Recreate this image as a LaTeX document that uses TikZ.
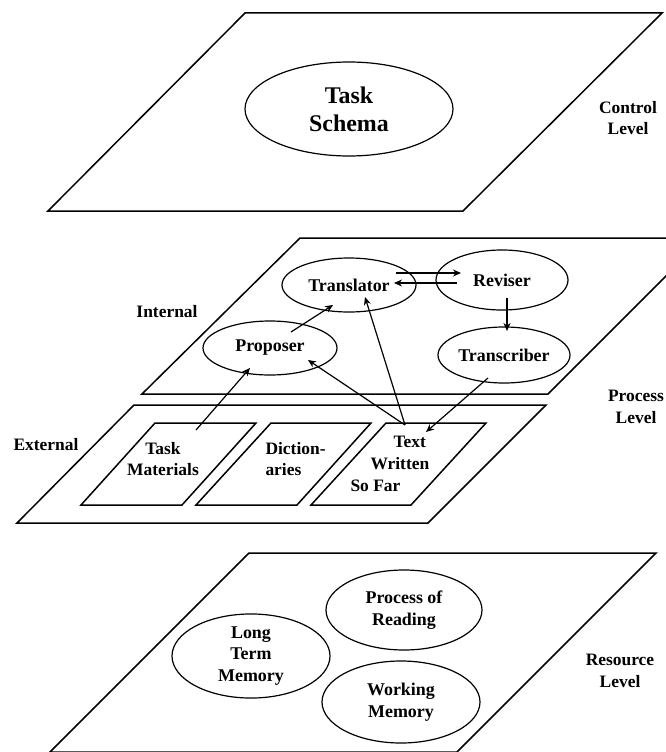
\documentclass[tikz,border=0pt]{standalone}
\usepackage{fontspec}
\setmainfont{Liberation Serif}
\usetikzlibrary{shapes.geometric,arrows.meta}

\begin{document}
\begin{tikzpicture}[x=1bp,y=-1bp,
  plane/.style={line width=1.5bp, line join=miter},
  oval/.style={draw, ellipse, line width=1.2bp, inner sep=0pt, align=center,
    font=\bfseries\fontsize{18}{22}\selectfont},
  lbl/.style={align=center, font=\bfseries\fontsize{17.5}{22}\selectfont},
  link/.style={line width=1.2bp, -{Stealth[length=8bp,width=7bp]}},
]
\useasboundingbox (0,0) rectangle (666,752);
\clip (0,0) rectangle (666,752);
\fill[white] (0,0) rectangle (666,752);

% ---------- control level ----------
\draw[plane] (245,13) -- (662,13) -- (463,211) -- (48,211) -- cycle;
\node[oval, minimum width=208bp, minimum height=94bp,
      font=\bfseries\fontsize{24}{28}\selectfont] (schema) at (349,109) {Task\\Schema};
\node[lbl] (ctrl) at (628,118) {Control\\Level};

% ---------- process level: internal ----------
\draw[plane] (300,238) -- (704,238) -- (548,394) -- (142,394) -- cycle;
\node[oval, minimum width=134bp, minimum height=54bp] (trans) at (349,285) {Translator};
\node[oval, minimum width=132bp, minimum height=60bp] (rev) at (502,280) {Reviser};
\node[oval, minimum width=134bp, minimum height=54bp] (prop) at (270,348) {Proposer};
\node[oval, minimum width=132bp, minimum height=56bp] (tscr) at (504,355) {Transcriber};
\node[lbl] (internal) at (167,312) {Internal};
\node[lbl] (proc) at (636,407) {Process\\Level};

% ---------- process level: external ----------
\draw[plane] (134,405) -- (546,405) -- (428,523) -- (17,523) -- cycle;
\draw[plane] (155,423) -- (256,423) -- (182,505) -- (81,505) -- cycle;
\draw[plane] (271,423) -- (371,423) -- (297,505) -- (196,505) -- cycle;
\draw[plane] (386,423) -- (486,423) -- (411,505) -- (311,505) -- cycle;
\node[lbl] (external) at (46,445) {External};
\node[lbl] (taskmat) at (163,459) {Task\\Materials};
\node[lbl, align=left, anchor=west] (dict) at (262,459) {Diction-\\aries};
\node[lbl, align=left, anchor=west] (textsofar) at (347,464)
  {\hspace*{43bp}Text\\\hspace*{20bp}Written\\So Far};

% ---------- resource level ----------
\draw[plane] (249,553) -- (656,553) -- (457,752) -- (50,752) -- cycle;
\node[oval, minimum width=156bp, minimum height=80bp] (reading) at (404,610) {Process of\\Reading};
\node[oval, minimum width=158bp, minimum height=82bp] (ltm) at (251,656) {Long\\Term\\Memory};
\node[oval, minimum width=158bp, minimum height=82bp] (wm) at (401,702) {Working\\Memory};
\node[lbl] (res) at (620,671) {Resource\\Level};

% ---------- connector end points ----------
\coordinate (tr-a) at (396,273);
\coordinate (rv-a) at (461,273);
\coordinate (rv-b) at (457,283);
\coordinate (tr-b) at (394,283);
\coordinate (rv-c) at (507,298);
\coordinate (ts-c) at (507,331);
\coordinate (pr-d) at (291,332);
\coordinate (tr-d) at (333,305);
\coordinate (tm-e) at (196,430);
\coordinate (pr-e) at (250,368);
\coordinate (tw-f) at (405,425);
\coordinate (pr-f) at (308,360);
\coordinate (tr-g) at (365,297);
\coordinate (ts-h) at (488,378);
\coordinate (tw-h) at (426,432);

% ---------- connectors ----------
\draw[link] (tr-a) -- (rv-a);
\draw[link] (rv-b) -- (tr-b);
\draw[link] (rv-c) -- (ts-c);
\draw[link] (pr-d) -- (tr-d);
\draw[link] (tm-e) -- (pr-e);
\draw[link] (tw-f) -- (pr-f);
\draw[link] (tw-f) -- (tr-g);
\draw[link] (ts-h) -- (tw-h);
\end{tikzpicture}
\end{document}
